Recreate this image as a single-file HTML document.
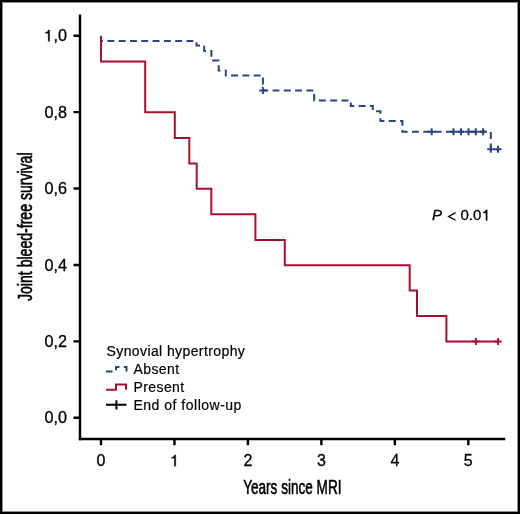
<!DOCTYPE html>
<html><head><meta charset="utf-8"><style>
html,body{margin:0;padding:0;background:#fff;}
body{width:520px;height:514px;overflow:hidden;position:relative;}
.frame{position:absolute;left:0;top:0;width:520px;height:514px;box-sizing:border-box;border:2px solid #000;box-shadow:inset 0 0 0 1px rgba(0,0,0,0.45);}
svg{position:absolute;left:0;top:0;will-change:transform;}
text{font-family:"Liberation Sans",sans-serif;fill:#000;stroke:#000;stroke-width:0.3px;}
.cond{stroke-width:0.6px;}
.leg text{stroke-width:0.2px;}
</style></head><body>
<svg width="520" height="514" viewBox="0 0 520 514">
<g fill="none" stroke="#000" stroke-width="2.4">
<path d="M80,14.5 V440.2"/>
<path d="M78.8,439 H505.2"/>
<path d="M73.5,417.80 H80 M73.5,341.38 H80 M73.5,264.96 H80 M73.5,188.54 H80 M73.5,112.12 H80 M73.5,35.70 H80 "/>
<path d="M101.00,439 V445.2 M174.46,439 V445.2 M247.92,439 V445.2 M321.38,439 V445.2 M394.84,439 V445.2 M468.30,439 V445.2 "/>
</g>
<g font-size="16.2"><text x="67.1" y="423.40" text-anchor="end">0,0</text><text x="67.1" y="346.98" text-anchor="end">0,2</text><text x="67.1" y="270.56" text-anchor="end">0,4</text><text x="67.1" y="194.14" text-anchor="end">0,6</text><text x="67.1" y="117.72" text-anchor="end">0,8</text><text x="67.1" y="41.30" text-anchor="end">,0</text><path d="M359,0 H269 V490 H101 V560 C190,565 255,595 275,703 H359 Z" transform="translate(43.78,41.30) scale(0.01620,-0.01620)" fill="#000" stroke="#000" stroke-width="0.3" vector-effect="non-scaling-stroke"/></g>
<g font-size="16"><text x="101.00" y="466.2" text-anchor="middle">0</text><path d="M359,0 H269 V490 H101 V560 C190,565 255,595 275,703 H359 Z" transform="translate(170.01,466.20) scale(0.01600,-0.01600)" fill="#000" stroke="#000" stroke-width="0.3" vector-effect="non-scaling-stroke"/><text x="247.92" y="466.2" text-anchor="middle">2</text><text x="321.38" y="466.2" text-anchor="middle">3</text><text x="394.84" y="466.2" text-anchor="middle">4</text><text x="468.30" y="466.2" text-anchor="middle">5</text></g>
<path d="M101,35.8 V40.9 H196.5 V45.6 H204.2 V51 H211.4 V60.5 H218.7 V70.4 H225.8 V75.4 H262.9 V90.5 H314.2 V100.6 H350.8 V106 H372.8 V111.2 H380.4 V121.1 H402.4 V131.8 H490.8 V149.3 H498" fill="none" stroke="#2a4580" stroke-width="2" stroke-dasharray="6.9 4.4" stroke-dashoffset="-0.2"/>
<path d="M259.3,90.5 H266.5 M262.9,87.0 V94.0M428.1,131.8 H435.3 M431.7,128.3 V135.3M449.9,131.8 H457.1 M453.5,128.3 V135.3M457.4,131.8 H464.6 M461,128.3 V135.3M464.9,131.8 H472.1 M468.5,128.3 V135.3M472.2,131.8 H479.4 M475.8,128.3 V135.3M479.5,131.8 H486.7 M483.1,128.3 V135.3M487.2,149.3 H494.4 M490.8,145.8 V152.8M494.4,149.3 H501.6 M498,145.8 V152.8" fill="none" stroke="#2a4580" stroke-width="2"/>
<path d="M101,35.8 V61.4 H145.2 V112.3 H174.8 V137.9 H189.3 V163.5 H196.7 V188.7 H211.3 V214.2 H255.4 V239.9 H284.8 V265.3 H409.7 V290.5 H417 V316.1 H446.4 V341.4 H498" fill="none" stroke="#a8102f" stroke-width="2"/>
<path d="M472.3,341.4 H479.5 M475.9,337.9 V344.9M494.5,341.4 H501.7 M498.1,337.9 V344.9" fill="none" stroke="#a8102f" stroke-width="2"/>
<text class="cond" x="0" y="0" font-size="20" transform="translate(32.2,301) rotate(-90) scale(0.704,1)">Joint bleed-free survival</text>
<text class="cond" x="0" y="0" font-size="20" transform="translate(243.2,493.9) scale(0.679,1)">Years since MRI</text>
<text x="432" y="220.4" font-size="15" font-style="italic">P</text><path d="M455.6,212.6 L448.6,216.4 L455.6,220.2" fill="none" stroke="#000" stroke-width="1.25"/><text x="460.4" y="220.4" font-size="15">0.0</text><path d="M359,0 H269 V490 H101 V560 C190,565 255,595 275,703 H359 Z" transform="translate(481.85,220.40) scale(0.01500,-0.01500)" fill="#000" stroke="#000" stroke-width="0.3" vector-effect="non-scaling-stroke"/>
<g class="leg" font-size="14" letter-spacing="0.4">
<text x="106.5" y="356.4">Synovial hypertrophy</text>
<text x="133.5" y="373.9">Absent</text>
<text x="133.5" y="391.6">Present</text>
<text x="133.5" y="409.5" letter-spacing="0.5">End of follow-up</text>
</g>
<path d="M106,371.6 H112.6 M116,370.3 V366.9 H119.5 M123.8,366.9 H126.5 V371.6" fill="none" stroke="#2a4580" stroke-width="2"/>
<path d="M106,389.8 H116 V384.6 H126 V389.8" fill="none" stroke="#a8102f" stroke-width="2"/>
<path d="M106,404.7 H126.5 M116.4,400.2 V409.4" fill="none" stroke="#000" stroke-width="2"/>
</svg>
<div class="frame"></div>
</body></html>
